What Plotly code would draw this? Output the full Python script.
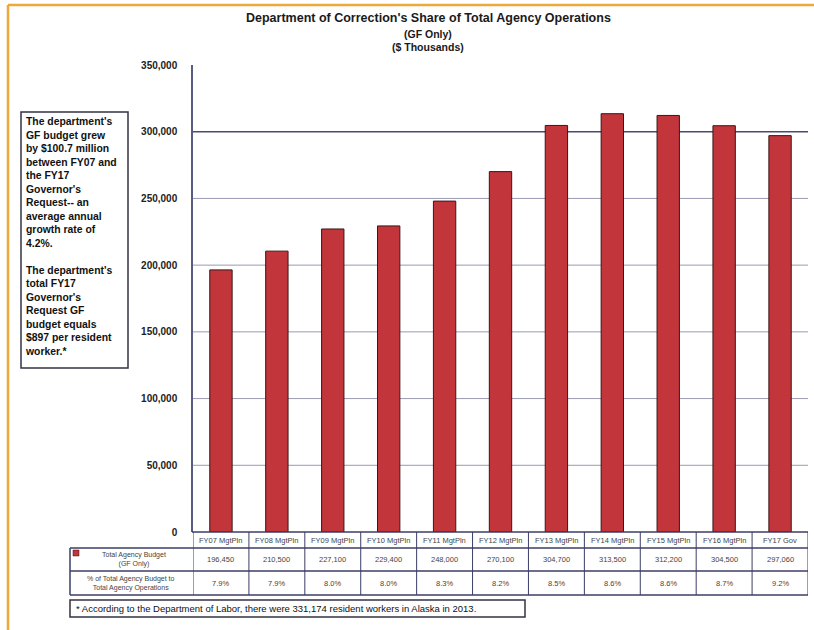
import plotly.graph_objects as go

# ---------------- data ----------------
CATEGORIES = ["FY07 MgtPln", "FY08 MgtPln", "FY09 MgtPln", "FY10 MgtPln", "FY11 MgtPln",
              "FY12 MgtPln", "FY13 MgtPln", "FY14 MgtPln", "FY15 MgtPln", "FY16 MgtPln",
              "FY17 Gov"]
GF_BUDGET = [196450, 210500, 227100, 229400, 248000, 270100, 304700, 313500, 312200, 304500, 297060]
PCT_SHARE = ["7.9%", "7.9%", "8.0%", "8.0%", "8.3%", "8.2%", "8.5%", "8.6%", "8.6%", "8.7%", "9.2%"]
Y_TICKS = [0, 50000, 100000, 150000, 200000, 250000, 300000, 350000]
GRID_VALUES = [50000, 100000, 150000, 200000, 250000, 300000]
ROW_LABELS = ["Total Agency Budget<br>(GF Only)",
              "% of Total Agency Budget to<br>Total Agency Operations"]
TITLE_LINES = ["Department of Correction's Share of Total Agency Operations",
               "(GF Only)", "($ Thousands)"]
SIDE_NOTE = ("The department's<br>GF budget grew<br>by $100.7 million<br>between FY07 and<br>"
             "the FY17<br>Governor's<br>Request-- an<br>average annual<br>growth rate of<br>4.2%.<br><br>"
             "The department's<br>total FY17<br>Governor's<br>Request GF<br>budget equals<br>"
             "$897 per resident<br>worker.*")
FOOTNOTE = "* According to the Department of Labor, there were 331,174 resident workers in Alaska in 2013."

# ---------------- layout helpers ----------------
W, H = 814, 630
L, R, T, B = 193, 6, 65, 98
PW, PH = W - L - R, H - T - B


def px(xp):
    return (xp - L) / PW


def py(yp):
    return (H - B - yp) / PH


FONT = "Liberation Sans, Arial, sans-serif"
NAVY = "#3c3c66"
BAR = "#c1353b"

fig = go.Figure()
fig.add_bar(x=CATEGORIES, y=GF_BUDGET, width=0.4,
            marker=dict(color=BAR, line=dict(color="#3a1616", width=1)))

shapes = []
# gridlines
for v in GRID_VALUES:
    dark = v == 300000
    shapes.append(dict(type="line", xref="paper", yref="y", x0=0, x1=1, y0=v, y1=v,
                       line=dict(color="#4a4a72" if dark else "#9a9ab4", width=1.5 if dark else 1),
                       layer="below"))

n = len(CATEGORIES)
r0, r1, r2, r3 = py(532), py(548), py(571), py(595)
# table horizontal lines
shapes.append(dict(type="line", xref="paper", yref="paper", x0=px(192), x1=1, y0=r0, y1=r0,
                   line=dict(color=NAVY, width=1.5)))
for yy in (r1, r2, r3):
    shapes.append(dict(type="line", xref="paper", yref="paper", x0=px(70), x1=1, y0=yy, y1=yy,
                       line=dict(color=NAVY, width=1.5)))
# table vertical lines
for i in range(n + 1):
    shapes.append(dict(type="line", xref="x", yref="paper", x0=i - 0.5, x1=i - 0.5, y0=r0, y1=r3,
                       line=dict(color=NAVY, width=1)))
shapes.append(dict(type="line", xref="paper", yref="paper", x0=px(70), x1=px(70), y0=r1, y1=r3,
                   line=dict(color=NAVY, width=1.5)))
# side note box
shapes.append(dict(type="rect", xref="paper", yref="paper", x0=px(21), x1=px(128), y0=py(368), y1=py(112),
                   line=dict(color="#333344", width=1.5), fillcolor="white"))
# footnote box
shapes.append(dict(type="rect", xref="paper", yref="paper", x0=px(70), x1=px(525), y0=py(617), y1=py(600),
                   line=dict(color="#333344", width=1.5), fillcolor="white"))
# legend key for row 1
shapes.append(dict(type="rect", xref="paper", yref="paper", x0=px(73), x1=px(79), y0=py(556), y1=py(550),
                   line=dict(color="#3a1616", width=0.5), fillcolor=BAR))
# orange page frame
shapes.append(dict(type="line", xref="paper", yref="paper", x0=px(8), x1=px(814), y0=py(5), y1=py(5),
                   line=dict(color="#eba93a", width=2.5)))
shapes.append(dict(type="line", xref="paper", yref="paper", x0=px(8), x1=px(8), y0=py(5), y1=py(630),
                   line=dict(color="#eba93a", width=2.5)))

ann = []
# title
for txt, yp, sz in zip(TITLE_LINES, (18, 34, 47), (12.5, 10.5, 10.5)):
    ann.append(dict(text=txt, xref="paper", yref="paper", x=px(428), y=py(yp), showarrow=False,
                    xanchor="center", yanchor="middle",
                    font=dict(family=FONT, size=sz, color="#1a1a1a", weight="bold")))
# side note
ann.append(dict(text=SIDE_NOTE, xref="paper", yref="paper", x=px(23), y=py(114), showarrow=False,
                xanchor="left", yanchor="top", align="left",
                font=dict(family=FONT, size=10.4, color="#111111", weight="bold")))
# footnote
ann.append(dict(text=FOOTNOTE, xref="paper", yref="paper", x=px(74), y=py(608.5), showarrow=False,
                xanchor="left", yanchor="middle", align="left",
                font=dict(family=FONT, size=9.5, color="#111111")))
# table cells
cell_font = dict(family=FONT, size=7.5, color="#444444")
for i, c in enumerate(CATEGORIES):
    ann.append(dict(text=c, xref="x", yref="paper", x=i, y=(r0 + r1) / 2, showarrow=False,
                    yanchor="middle", font=cell_font))
    ann.append(dict(text=f"{GF_BUDGET[i]:,}", xref="x", yref="paper", x=i, y=(r1 + r2) / 2,
                    showarrow=False, yanchor="middle", font=cell_font))
    ann.append(dict(text=PCT_SHARE[i], xref="x", yref="paper", x=i, y=(r2 + r3) / 2,
                    showarrow=False, yanchor="middle", font=cell_font))
ann.append(dict(text=ROW_LABELS[0], xref="paper", yref="paper", x=px(134), y=(r1 + r2) / 2,
                showarrow=False, xanchor="center", yanchor="middle",
                font=dict(family=FONT, size=7, color="#444444")))
ann.append(dict(text=ROW_LABELS[1], xref="paper", yref="paper", x=px(131), y=(r2 + r3) / 2,
                showarrow=False, xanchor="center", yanchor="middle",
                font=dict(family=FONT, size=7, color="#444444")))

fig.update_layout(
    width=W, height=H, margin=dict(l=L, r=R, t=T, b=B),
    paper_bgcolor="white", plot_bgcolor="white", showlegend=False,
    bargap=0.6, shapes=shapes, annotations=ann,
    font=dict(family=FONT),
)
fig.update_xaxes(showticklabels=False, showgrid=False, showline=False, zeroline=False,
                 range=[-0.5, n - 0.5])
fig.update_yaxes(range=[0, 350000], tickvals=Y_TICKS, tickformat=",d", showgrid=False, zeroline=False,
                 showline=True, linecolor="#5a5a80", linewidth=1.5, ticks="", ticklabelstandoff=12,
                 tickfont=dict(family=FONT, size=10, color="#222222", weight="bold"))

fig.write_html("out.html")
